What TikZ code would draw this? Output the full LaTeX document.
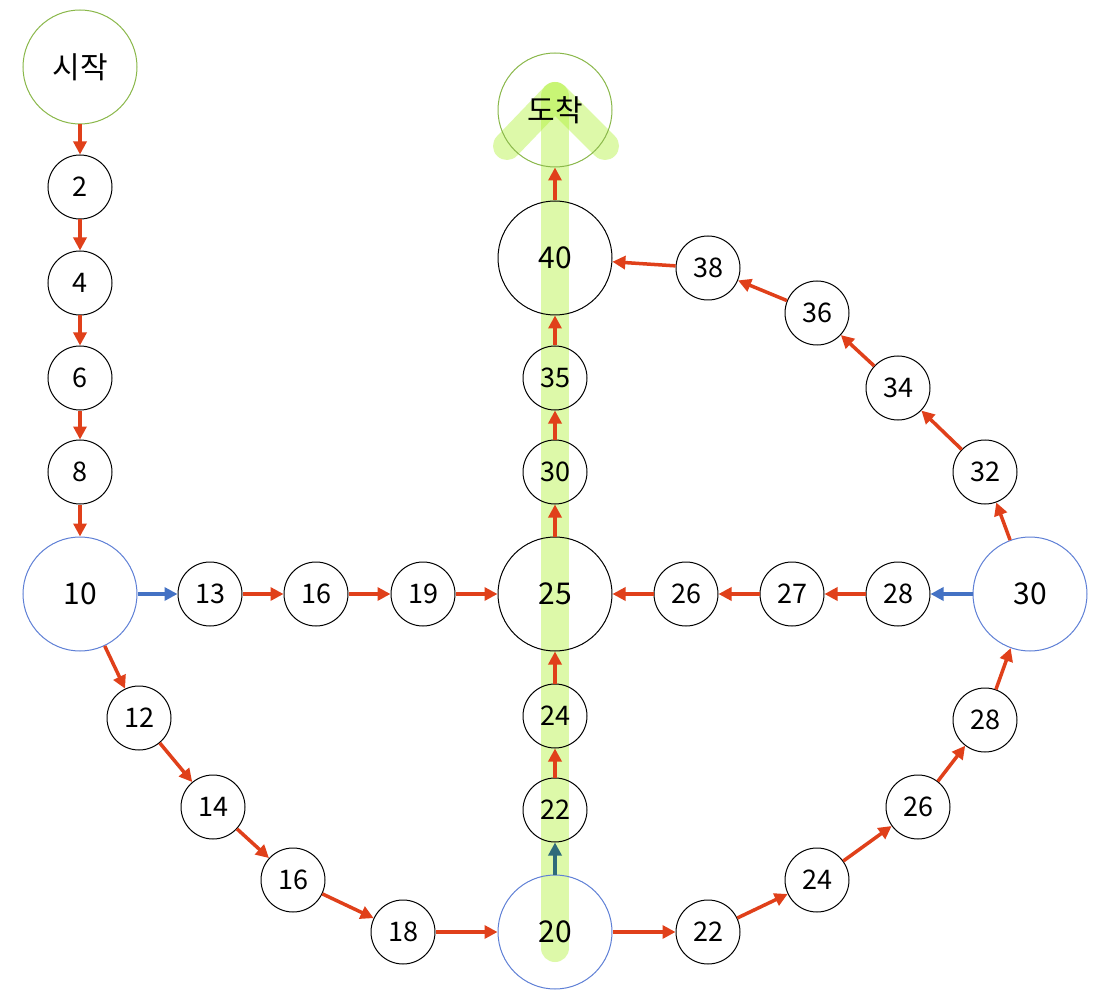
\documentclass[tikz,border=0pt]{standalone}
\usepackage{fontspec}
\setmainfont{Noto Sans CJK KR}
\usetikzlibrary{arrows.meta}
\definecolor{ered}{RGB}{224,64,26}
\definecolor{eblue}{RGB}{68,114,196}
\definecolor{eteal}{RGB}{46,107,122}
\definecolor{nblue}{RGB}{95,128,214}
\definecolor{ngreen}{RGB}{138,184,74}
\definecolor{hl}{RGB}{170,240,40}
\pgfdeclarelayer{background}
\pgfsetlayers{background,main}
\tikzset{
  small/.style={circle,draw=black,line width=1pt,minimum size=64pt,inner sep=0pt,font=\fontsize{27}{30}\selectfont},
  big/.style={circle,draw=black,line width=1pt,minimum size=114pt,inner sep=0pt,font=\fontsize{30}{33}\selectfont},
  bluenode/.style={big,draw=nblue},
  greennode/.style={big,draw=ngreen},
  link/.style={draw=ered,line width=3.5pt,-{Triangle[length=13pt,width=13pt]}},
  bluelink/.style={link,draw=eblue},
  teallink/.style={link,draw=eteal},
  band/.style={draw=hl,draw opacity=0.4,line width=28pt,line cap=round,line join=round}
}
\begin{document}
\begin{tikzpicture}[x=1pt,y=-1pt]
\useasboundingbox (0,0) rectangle (1101,1000);
% nodes
\node[greennode] (s) at (80,67) {시작};
\node[small] (n2) at (80,187) {2};
\node[small] (n4) at (80,283) {4};
\node[small] (n6) at (80,378) {6};
\node[small] (n8) at (80,472) {8};
\node[bluenode] (n10) at (80,594) {10};
\node[small] (n13) at (210,594) {13};
\node[small] (n16a) at (316,594) {16};
\node[small] (n19) at (423,594) {19};
\node[big] (n25) at (555,594) {25};
\node[small] (n26a) at (686,594) {26};
\node[small] (n27) at (792,594) {27};
\node[small] (n28a) at (898,594) {28};
\node[bluenode] (n30a) at (1030,594) {30};
\node[greennode] (f) at (555,110) {도착};
\node[big] (n40) at (555,258) {40};
\node[small] (n35) at (555,378) {35};
\node[small] (n30b) at (555,472) {30};
\node[small] (n24a) at (555,716) {24};
\node[small] (n22a) at (555,810) {22};
\node[bluenode] (n20) at (555,932) {20};
\node[small] (n12) at (139,718) {12};
\node[small] (n14) at (213,807) {14};
\node[small] (n16b) at (293,880) {16};
\node[small] (n18) at (403,932) {18};
\node[small] (n22b) at (708,932) {22};
\node[small] (n24b) at (817,880) {24};
\node[small] (n26b) at (918,807) {26};
\node[small] (n28b) at (985,720) {28};
\node[small] (n32) at (985,472) {32};
\node[small] (n34) at (898,388) {34};
\node[small] (n36) at (817,313) {36};
\node[small] (n38) at (708,268) {38};
% connectors
\draw[link] (s) -- (n2);
\draw[link] (n2) -- (n4);
\draw[link] (n4) -- (n6);
\draw[link] (n6) -- (n8);
\draw[link] (n8) -- (n10);
\draw[bluelink] (n10) -- (n13);
\draw[link] (n13) -- (n16a);
\draw[link] (n16a) -- (n19);
\draw[link] (n19) -- (n25);
\draw[link] (n10) -- (n12);
\draw[link] (n12) -- (n14);
\draw[link] (n14) -- (n16b);
\draw[link] (n16b) -- (n18);
\draw[link] (n18) -- (n20);
\draw[teallink] (n20) -- (n22a);
\draw[link] (n22a) -- (n24a);
\draw[link] (n24a) -- (n25);
\draw[link] (n25) -- (n30b);
\draw[link] (n30b) -- (n35);
\draw[link] (n35) -- (n40);
\draw[link] (n40) -- (f);
\draw[link] (n20) -- (n22b);
\draw[link] (n22b) -- (n24b);
\draw[link] (n24b) -- (n26b);
\draw[link] (n26b) -- (n28b);
\draw[link] (n28b) -- (n30a);
\draw[bluelink] (n30a) -- (n28a);
\draw[link] (n28a) -- (n27);
\draw[link] (n27) -- (n26a);
\draw[link] (n26a) -- (n25);
\draw[link] (n30a) -- (n32);
\draw[link] (n32) -- (n34);
\draw[link] (n34) -- (n36);
\draw[link] (n36) -- (n38);
\draw[link] (n38) -- (n40);
% highlight path
\coordinate (hltip) at (555,96);
\coordinate (hlbase) at (555,948);
\coordinate (hlleft) at (507,146);
\coordinate (hlright) at (605,146);
\begin{pgfonlayer}{background}
\fill[white] (0,0) rectangle (1101,1000);
\draw[band] (hlbase) -- (hltip);
\draw[band] (hlleft) -- (hltip) -- (hlright);
\end{pgfonlayer}
\end{tikzpicture}
\end{document}
